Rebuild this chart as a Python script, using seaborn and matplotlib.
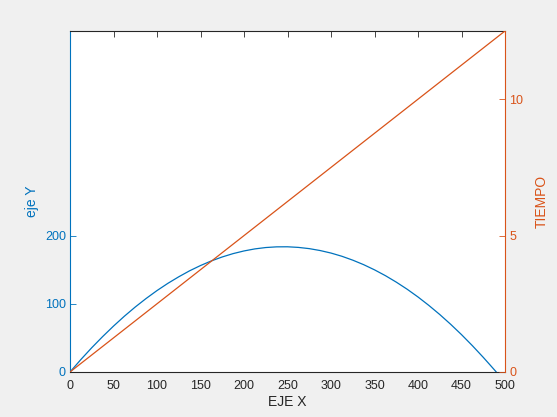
import pandas as pd
import matplotlib
matplotlib.use('Agg')
import matplotlib.pyplot as plt
import seaborn as sns

# values
x_pos = [0, 12.5, 25, 37.5, 50, 62.5, 75, 87.5, 100, 112.5, 125, 137.5, 150,
         162.5, 175, 187.5, 200, 212.5, 225, 237.5, 250, 262.5, 275, 287.5,
         300, 312.5, 325, 337.5, 350, 362.5, 375, 387.5, 400, 412.5, 425,
         437.5, 450, 462.5, 475, 482.5, 490]
y_pos = [0, 18.3, 35.6, 51.9, 67.3, 81.8, 95.3, 107.8, 119.4, 130.0, 139.6,
         148.4, 156.1, 162.9, 168.7, 173.6, 177.5, 180.5, 182.5, 183.5, 183.6,
         182.7, 180.9, 178.1, 174.4, 169.7, 164.0, 157.4, 149.8, 141.3, 131.8,
         121.4, 110.0, 97.6, 84.3, 70.0, 54.8, 38.6, 21.5, 10.8, 0]
x_time = [0, 500]
t_vals = [0, 12.5]
x_ticks = [0, 50, 100, 150, 200, 250, 300, 350, 400, 450, 500]
y_ticks = [0, 100, 200]
t_ticks = [0, 5, 10]

blue = '#0072BD'
orange = '#D95319'
dark = '#262626'

sns.set_style('white')
plt.rcParams['font.family'] = ['Liberation Sans', 'DejaVu Sans']

df_y = pd.DataFrame({'x': x_pos, 'y': y_pos})
df_t = pd.DataFrame({'x': x_time, 't': t_vals})

fig = plt.figure(figsize=(5.57, 4.17), dpi=100, facecolor='#f0f0f0')
ax = fig.add_axes([70 / 557, 45 / 417, 435 / 557, 341 / 417])
ax2 = ax.twinx()

sns.lineplot(data=df_y, x='x', y='y', ax=ax, color=blue, linewidth=0.9)
sns.lineplot(data=df_t, x='x', y='t', ax=ax2, color=orange, linewidth=0.9)

ax.set_xlim(0, 500)
ax.set_ylim(0, 500)
ax2.set_ylim(0, 12.5)
ax.set_xticks(x_ticks)
ax.set_yticks(y_ticks)
ax2.set_yticks(t_ticks)

ax.set_xlabel('EJE X', fontsize=10, color=dark, labelpad=2)
ax.set_ylabel('eje Y', fontsize=10, color=blue, labelpad=4)
ax2.set_ylabel('TIEMPO', fontsize=10, color=orange, labelpad=8)

ax.tick_params(axis='x', direction='in', length=4, width=0.6, colors=dark,
               labelsize=9, top=True, pad=6)
ax.tick_params(axis='y', direction='in', length=4, width=0.6, colors=blue,
               labelsize=9, pad=3)
ax2.tick_params(axis='y', direction='in', length=4, width=0.6, colors=orange,
                labelsize=9, pad=3)

for s in ['top', 'bottom']:
    ax.spines[s].set_color(dark)
    ax2.spines[s].set_visible(False)
ax.spines['left'].set_color(blue)
ax.spines['right'].set_visible(False)
ax2.spines['left'].set_visible(False)
ax2.spines['right'].set_color(orange)
for sp in list(ax.spines.values()) + list(ax2.spines.values()):
    sp.set_linewidth(0.8)

fig.savefig('out.png', dpi=100, facecolor=fig.get_facecolor())
